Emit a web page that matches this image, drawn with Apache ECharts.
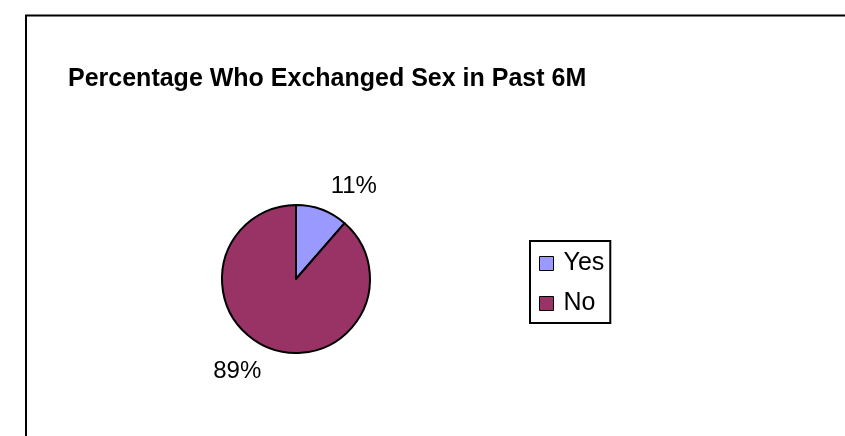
<!DOCTYPE html>
<html>
<head>
<meta charset="utf-8">
<script src="https://cdn.jsdelivr.net/npm/echarts@6/dist/echarts.min.js"></script>
<style>
  html, body { margin: 0; padding: 0; background: #fff; }
  #chart { width: 845px; height: 436px; }
</style>
</head>
<body>
<div id="chart"></div>
<script>
const titleText = 'Percentage Who Exchanged Sex in Past 6M';
const categories = ['Yes', 'No'];
const values = [11.4, 88.6];
const colors = ['#9999FF', '#993366'];

const FONT = "'Liberation Sans', Arial, sans-serif";
const chart = echarts.init(document.getElementById('chart'), null, { renderer: 'canvas' });

chart.setOption({
  animation: false,
  backgroundColor: '#ffffff',
  graphic: [{
    type: 'rect',
    shape: { x: 26, y: 15.5, width: 900, height: 500 },
    style: { fill: 'none', stroke: '#000', lineWidth: 2 },
    silent: true
  }],
  title: {
    text: titleText,
    left: 68,
    top: 67,
    padding: 0,
    textStyle: { fontFamily: FONT, fontWeight: 'bold', fontSize: 25, color: '#000' }
  },
  legend: {
    orient: 'vertical',
    left: 530,
    top: 241,
    padding: [10, 6, 7, 9],
    itemGap: 15,
    itemWidth: 14,
    itemHeight: 14,
    icon: 'rect',
    borderColor: '#000',
    borderWidth: 2,
    itemStyle: { borderColor: '#000', borderWidth: 1 },
    textStyle: { fontFamily: FONT, fontSize: 25, color: '#000', padding: [0, 0, 0, 5] },
    data: categories
  },
  series: [{
    type: 'pie',
    center: [296, 279],
    radius: 74,
    startAngle: 90,
    clockwise: true,
    avoidLabelOverlap: false,
    itemStyle: { borderColor: '#000', borderWidth: 2 },
    label: {
      show: true,
      position: 'outside',
      distanceToLabelLine: 0,
      fontFamily: FONT,
      fontSize: 24,
      color: '#000',
      formatter: p => Math.round(p.percent) + '%'
    },
    labelLine: { show: false, length: 25, length2: 0 },
    emphasis: { disabled: true },
    data: categories.map((c, i) => ({ name: c, value: values[i], itemStyle: { color: colors[i] } }))
  }]
});
</script>
</body>
</html>
